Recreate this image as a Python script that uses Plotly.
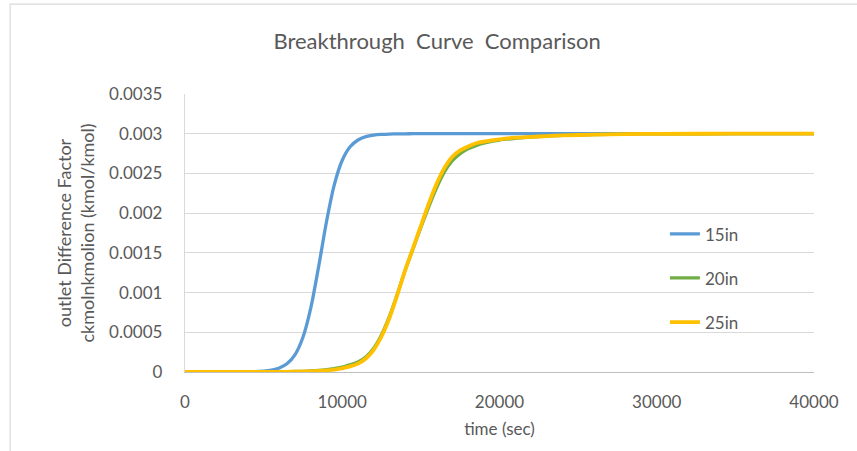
import plotly.graph_objects as go

# ---- data ----
time_sec = [0, 2000, 4000, 5000, 5500, 6000, 6500, 7000, 7500, 8000, 8500, 9000, 9500,
            10000, 10500, 11000, 11500, 12000, 12500, 13000, 13500, 14000, 14500, 15000,
            15500, 16000, 16500, 17000, 17500, 18000, 18500, 19000, 20000, 21000, 22000,
            23000, 24000, 26000, 28000, 30000, 35000, 40000]

in15 = [0, 0, 0.0000024, 0.0000108, 0.0000233, 0.00005, 0.000106, 0.000219, 0.000437,
        0.000807, 0.001328, 0.001894, 0.002362, 0.002666, 0.002835, 0.002921, 0.002963,
        0.002983, 0.002992, 0.002996, 0.002998, 0.002999, 0.003, 0.003, 0.003, 0.003,
        0.003, 0.003, 0.003, 0.003, 0.003, 0.003, 0.003, 0.003, 0.003, 0.003, 0.003,
        0.003, 0.003, 0.003, 0.003, 0.003]

in20 = [0, 0, 0, 0.000001, 0.000002, 0.000003, 0.0000045, 0.000006, 0.000009, 0.000013,
        0.00002, 0.00003, 0.000043, 0.00006, 0.00009, 0.000125, 0.00019, 0.0003, 0.00047,
        0.0007, 0.00098, 0.00128, 0.00155, 0.00182, 0.00208, 0.00232, 0.00252, 0.00266,
        0.00275, 0.00281, 0.00285, 0.00288, 0.00292, 0.00294, 0.00296, 0.00297, 0.00298,
        0.002988, 0.002995, 0.002998, 0.003, 0.003]

in25 = [0, 0, 0, 0.0000005, 0.000001, 0.0000015, 0.0000025, 0.000004, 0.000006, 0.000009,
        0.000013, 0.00002, 0.00003, 0.000045, 0.00007, 0.000105, 0.00017, 0.00028, 0.00045,
        0.00068, 0.00097, 0.00128, 0.00156, 0.00184, 0.00212, 0.00237, 0.00257, 0.00271,
        0.00279, 0.00284, 0.00288, 0.0029, 0.00293, 0.00295, 0.00296, 0.00297, 0.002978,
        0.002988, 0.002995, 0.002998, 0.003, 0.003]

series_names = ["15in", "20in", "25in"]
series_colors = ["#5B9BD5", "#70AD47", "#FFC000"]
series_widths = [3.3, 3.3, 3.8]

x_tickvals = [0, 10000, 20000, 30000, 40000]
x_ticktext = ["0", "10000", "20000", "30000", "40000"]
y_tickvals = [0, 0.0005, 0.001, 0.0015, 0.002, 0.0025, 0.003, 0.0035]
y_ticktext = ["0", "0.0005", "0.001", "0.0015", "0.002", "0.0025", "0.003", "0.0035"]

FONT = "Lato"
GREY = "#595959"

fig = go.Figure()
for name, ys, col, w in zip(series_names, [in15, in20, in25], series_colors, series_widths):
    fig.add_trace(go.Scatter(
        x=time_sec, y=ys, mode="lines", name=name, legendgroup=name,
        line=dict(color=col, width=w, shape="spline", smoothing=0.8),
        hoverinfo="skip",
    ))

fig.update_layout(
    width=857, height=451,
    margin=dict(l=185, r=43, t=94, b=79),
    paper_bgcolor="white", plot_bgcolor="white",
    font=dict(family=FONT, color=GREY, size=17),
    title=dict(text="Breakthrough  Curve  Comparison", x=0.51, xref="container",
               xanchor="center", y=1 - 41 / 451, yref="container", yanchor="middle",
               font=dict(family=FONT, size=22, color=GREY)),
    showlegend=True,
    legend=dict(x=0.763, xanchor="left", y=0.56, yanchor="top",
                bgcolor="rgba(0,0,0,0)", font=dict(family=FONT, size=17, color=GREY),
                tracegroupgap=19, traceorder="grouped"),
    shapes=[
        # chart-area border
        dict(type="rect", xref="paper", yref="paper", x0=-0.278, x1=1.2, y0=-0.5, y1=1.323,
             line=dict(color="#d9d9d9", width=1.2), fillcolor="rgba(0,0,0,0)", layer="below"),
        # legend box background (hides gridlines like the reference)
        dict(type="rect", xref="paper", yref="paper", x0=0.652, x1=0.965, y0=0.094, y1=0.671,
             line=dict(width=0), fillcolor="white", layer="between"),
    ],
)

fig.update_xaxes(range=[0, 40000], tickvals=x_tickvals, ticktext=x_ticktext,
                 showgrid=False, zeroline=False, showline=True, linecolor="#bfbfbf", linewidth=1.3,
                 ticks="", ticklabelstandoff=14,
                 tickfont=dict(family=FONT, size=17, color=GREY),
                 title=dict(text="time (sec)", font=dict(family=FONT, size=17, color=GREY), standoff=12))

fig.update_yaxes(range=[0, 0.0035], tickvals=y_tickvals, ticktext=y_ticktext,
                 showgrid=True, gridcolor="#d9d9d9", gridwidth=1.3, zeroline=False,
                 showline=True, linecolor="#d9d9d9", linewidth=1.3,
                 ticks="", ticklabelstandoff=18,
                 tickfont=dict(family=FONT, size=17, color=GREY),
                 title=dict(text="outlet Difference Factor<br>ckmolnkmolion (kmol/kmol)",
                            font=dict(family=FONT, size=18, color=GREY), standoff=9))

fig.write_html("out.html")
